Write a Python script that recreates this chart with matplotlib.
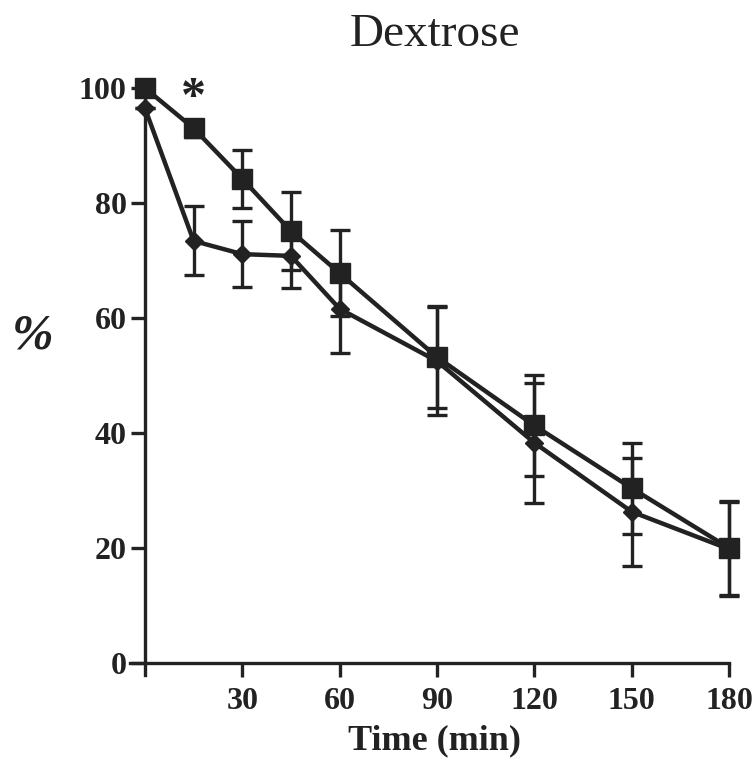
import numpy as np
import matplotlib
matplotlib.use("Agg")
from matplotlib import pyplot as plt

# time points (min)
time = [0, 15, 30, 45, 60, 90, 120, 150, 180]

# square series: mean and error
sq_mean = [100, 93.0, 84.2, 75.1, 67.8, 53.2, 41.3, 30.4, 20.0]
sq_err = [0, 1.5, 5.0, 6.8, 7.5, 8.9, 8.7, 7.9, 8.2]

# diamond series: mean and error
dm_mean = [96.5, 73.4, 71.1, 70.8, 61.6, 52.5, 38.3, 26.3, 19.8]
dm_err = [0, 6.0, 5.7, 5.6, 7.7, 9.4, 10.4, 9.4, 8.2]

x_ticks = [30, 60, 90, 120, 150, 180]
y_ticks = [0, 20, 40, 60, 80, 100]

ink = '#222222'
serif = 'Liberation Serif'


def plot():
    fig = plt.figure(figsize=(7.52, 7.6), dpi=100)
    ax = fig.add_axes([130 / 752, 1 - 675 / 760, 599 / 752, 587 / 760])

    ax.errorbar(time, dm_mean, yerr=dm_err, color=ink, lw=3.2, marker='D',
                ms=9.5, capsize=7, capthick=2.4, elinewidth=2.4,
                clip_on=False, zorder=3)
    ax.errorbar(time, sq_mean, yerr=sq_err, color=ink, lw=3.2, marker='s',
                ms=14, capsize=7, capthick=2.4, elinewidth=2.4,
                clip_on=False, zorder=4)

    # significance mark at 15 min
    ax.text(15, 98.0, '*', fontsize=36, family=serif, fontweight='bold',
            color=ink, ha='center', va='center')

    ax.set_xlim(-4.6, 180)
    ax.set_ylim(-2.1, 100)
    ax.spines['left'].set_position(('data', 0))
    ax.spines['bottom'].set_position(('data', 0))
    ax.spines['right'].set_visible(False)
    ax.spines['top'].set_visible(False)
    for s in ('left', 'bottom'):
        ax.spines[s].set_linewidth(2.4)
        ax.spines[s].set_color(ink)

    ax.set_xticks(x_ticks)
    ax.set_yticks(y_ticks)
    ax.tick_params(direction='out', length=10, width=2.4, color=ink,
                   labelsize=23, labelcolor=ink, pad=3)
    ax.tick_params(axis='x', pad=7)
    for lab in ax.get_xticklabels() + ax.get_yticklabels():
        lab.set_family(serif)
        lab.set_fontweight('bold')

    fig.text(435 / 752, 1 - 35 / 760, 'Dextrose', fontsize=34, family=serif,
             color=ink, ha='center', va='center')
    fig.text(435 / 752, 1 - 741 / 760, 'Time (min)', fontsize=26,
             family=serif, fontweight='bold', color=ink,
             ha='center', va='center')
    fig.text(33 / 752, 1 - 336 / 760, '%', fontsize=36, family=serif,
             style='italic', fontweight='bold', color=ink,
             ha='center', va='center')

    fig.savefig('out.png', dpi=100)


if __name__ == '__main__':
    plot()
